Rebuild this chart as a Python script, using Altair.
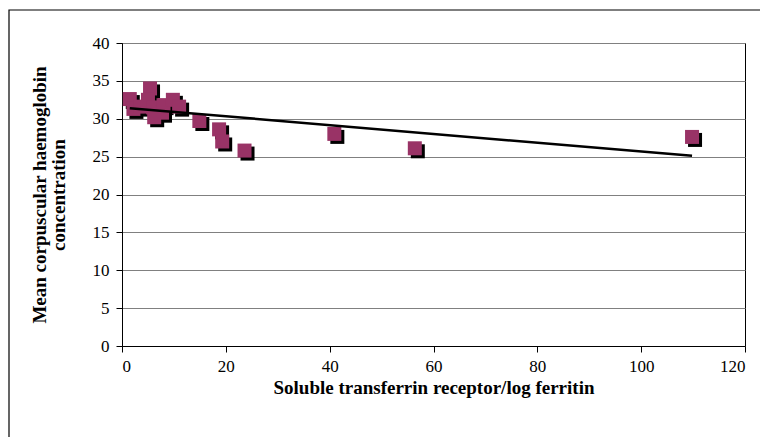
import altair as alt
import pandas as pd

# Data
stfr_ratio = [1.5, 2.2, 3.5, 5.4, 5.0, 6.0, 6.2, 7.7, 8.0, 9.8, 11.0, 14.9, 18.7, 19.3, 23.6, 40.9, 56.4, 109.8]
mchc = [32.6, 31.3, 31.6, 34.0, 32.5, 31.5, 30.2, 30.8, 31.8, 32.5, 31.6, 29.7, 28.6, 27.0, 25.8, 28.0, 26.1, 27.6]

trend_x = [1.5, 109.8]
trend_y = [31.4, 25.1]

x_ticks = [0, 20, 40, 60, 80, 100, 120]
y_ticks = [0, 5, 10, 15, 20, 25, 30, 35, 40]

pts = pd.DataFrame({"x": stfr_ratio, "y": mchc})
trend = pd.DataFrame({"x": trend_x, "y": trend_y})

FONT = "Liberation Serif"

x_enc = alt.X(
    "x:Q",
    scale=alt.Scale(domain=[0, 120], nice=False),
    axis=alt.Axis(
        values=x_ticks, title="Soluble transferrin receptor/log ferritin",
        grid=False, tickSize=6, labelPadding=6, titlePadding=4,
        labelOverlap=False,
    ),
)
y_enc = alt.Y(
    "y:Q",
    scale=alt.Scale(domain=[0, 40], nice=False),
    axis=alt.Axis(
        values=y_ticks, title=["Mean corpuscular haemoglobin", "concentration"],
        grid=True, tickSize=6, labelPadding=7, titlePadding=24,
        labelOverlap=False,
    ),
)

frame = alt.Chart(pd.DataFrame({"a": [0]})).mark_rect(
    fill=None, stroke="black", strokeWidth=1.2
).encode(
    x=alt.value(-113), x2=alt.value(660),
    y=alt.value(-33), y2=alt.value(420),
)

shadow = alt.Chart(pts).mark_square(
    size=196, color="black", opacity=1, xOffset=3, yOffset=3
).encode(x=x_enc, y=y_enc)

squares = alt.Chart(pts).mark_square(
    size=196, color="#993366", opacity=1
).encode(x=x_enc, y=y_enc)

line = alt.Chart(trend).mark_line(color="black", strokeWidth=2.5).encode(
    x=x_enc, y=y_enc
)

chart = alt.layer(frame, shadow, squares, line).properties(
    width=623, height=303,
    autosize=alt.AutoSizeParams(type="none"),
    padding={"left": 114, "top": 35, "right": 15, "bottom": 91},
).configure_view(
    stroke="black", strokeWidth=1
).configure_axis(
    labelFont=FONT, titleFont=FONT, labelFontSize=17, titleFontSize=19,
    labelColor="black", titleColor="black", titleFontWeight="bold",
    domainColor="black", tickColor="black", gridColor="#808080",
    labelFontWeight="normal", titleLineHeight=19,
)

chart.save("out.html", embed_options={"renderer": "svg", "actions": False})
